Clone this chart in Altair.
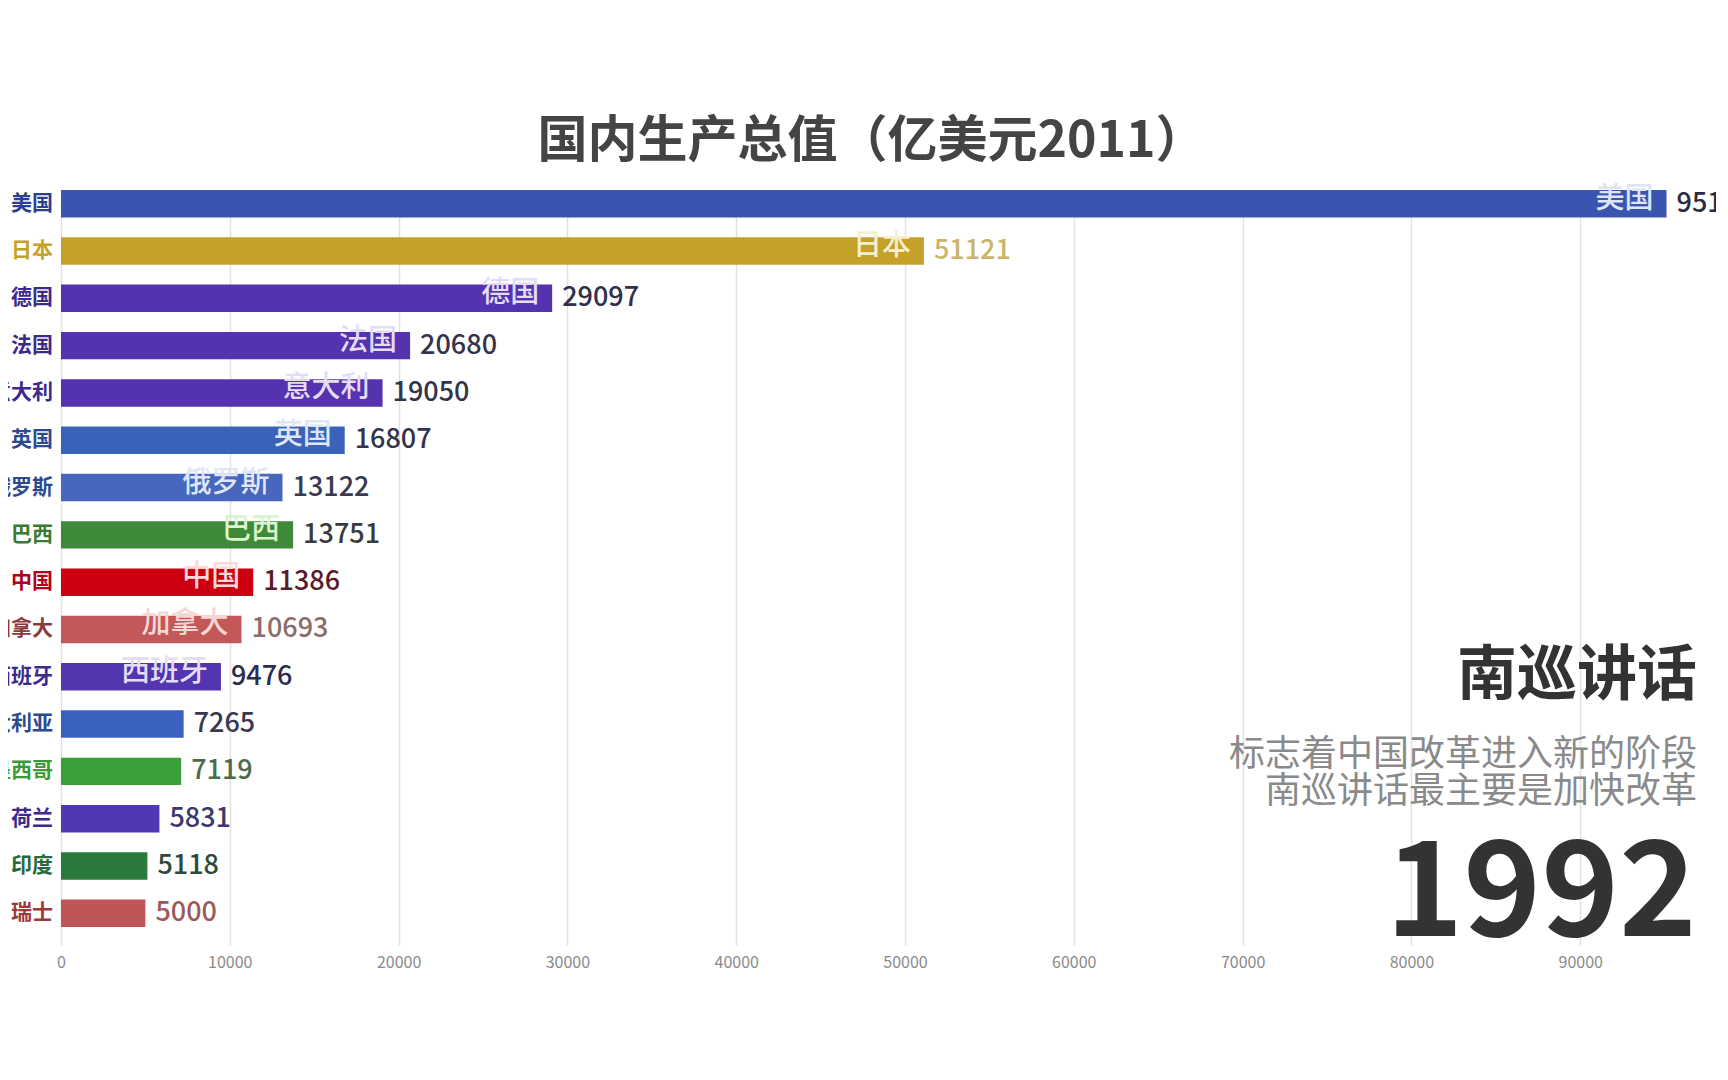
import altair as alt
import pandas as pd

countries = ["美国", "日本", "德国", "法国", "意大利", "英国", "俄罗斯", "巴西",
             "中国", "加拿大", "西班牙", "澳大利亚", "墨西哥", "荷兰", "印度", "瑞士"]
values = [95113, 51121, 29097, 20680, 19050, 16807, 13122, 13751,
          11386, 10693, 9476, 7265, 7119, 5831, 5118, 5000]
x_ticks = [0, 10000, 20000, 30000, 40000, 50000, 60000, 70000, 80000, 90000]
inner_names = ["美国", "日本", "德国", "法国", "意大利", "英国", "俄罗斯", "巴西",
               "中国", "加拿大", "西班牙"]

title_text = "国内生产总值（亿美元2011）"
event_title = ["南巡讲话"]
event_line1 = ["标志着中国改革进入新的阶段"]
event_line2 = ["南巡讲话最主要是加快改革"]
year_text = ["1992"]

# ---- palettes ----
bar_colors = ["#3a55b0", "#c4a22a", "#5533b0", "#5533b0", "#5533b0", "#3a62b8", "#4766bd", "#3f8a38",
              "#cc0010", "#c25858", "#5236b0", "#3a60c0", "#3aa03a", "#5038b5", "#2a7a3c", "#c05555"]
name_colors = ["#2c3e90", "#c4a22a", "#3c2a8c", "#3c2a8c", "#3c2a8c", "#2c4a90", "#2c4a90", "#3a7a30",
               "#b0001a", "#8c3a3a", "#3c2a8c", "#2c4a90", "#3a9a3a", "#3c2a8c", "#2a6a3a", "#9a3a3a"]
value_colors = ["#2a2a40", "#c9b46a", "#30304a", "#33334a", "#33334a", "#33334a", "#3a3a50", "#3a3a3a",
                "#5a1a2a", "#8c6b6b", "#2c2c4e", "#383850", "#4d6a4d", "#3a3a6a", "#2c4a3a", "#9a5a5a"]
inner_colors = ["#dfe4f7", "#f6efcf", "#e4dcf5", "#e4dcf5", "#e4dcf5", "#dfe6f7", "#dfe6f7", "#dcf3cf",
                "#fbd9dc", "#f3d6d6", "#e4dcf5"]

FONT = "Noto Sans CJK SC"
W, H = 1655, 755

df = pd.DataFrame({"country": countries, "value": values})

x_scale = alt.Scale(domain=[0, 98045], nice=False, zero=True)
y_enc = alt.Y("country:N", sort=countries,
              scale=alt.Scale(paddingInner=0.42, paddingOuter=0.19, align=0),
              axis=None)

bars = alt.Chart(df).mark_bar().encode(
    x=alt.X("value:Q", scale=x_scale,
            axis=alt.Axis(values=x_ticks, format="d", title=None, domain=False, ticks=False,
                          grid=True, gridColor="#e2e2e2", gridWidth=1.5,
                          labelColor="#8a8a8a", labelFontSize=16, labelPadding=9,
                          labelFont=FONT, labelFlush=False)),
    y=y_enc,
    color=alt.Color("country:N", scale=alt.Scale(domain=countries, range=bar_colors), legend=None),
)

inner = alt.Chart(df).transform_filter(
    alt.FieldOneOfPredicate(field="country", oneOf=inner_names)
).mark_text(align="right", baseline="middle", dx=-13, dy=-5, font=FONT, fontSize=29,
            fontWeight=500).encode(
    x=alt.X("value:Q", scale=x_scale),
    y=y_enc,
    text="country:N",
    color=alt.Color("country:N", scale=alt.Scale(domain=inner_names, range=inner_colors), legend=None),
)

vals = alt.Chart(df).mark_text(align="left", baseline="middle", dx=10, font=FONT, fontSize=27,
                               fontWeight=500, clip=True).encode(
    x=alt.X("value:Q", scale=x_scale),
    y=y_enc,
    text=alt.Text("value:Q", format="d"),
    color=alt.Color("country:N", scale=alt.Scale(domain=countries, range=value_colors), legend=None),
)

names = alt.Chart(df).mark_text(align="right", baseline="middle", dx=-8, font=FONT, fontSize=21,
                                fontWeight="bold").encode(
    x=alt.value(0),
    y=y_enc,
    text="country:N",
    color=alt.Color("country:N", scale=alt.Scale(domain=countries, range=name_colors), legend=None),
)

ev_title = alt.Chart(pd.DataFrame({"t": event_title})).mark_text(
    align="right", baseline="middle", font=FONT, fontSize=60, fontWeight="bold", color="#333333"
).encode(x=alt.value(1636), y=alt.value(487), text="t:N")

ev_l1 = alt.Chart(pd.DataFrame({"t": event_line1})).mark_text(
    align="right", baseline="middle", font=FONT, fontSize=36, color="#8a8a8a"
).encode(x=alt.value(1636), y=alt.value(565), text="t:N")

ev_l2 = alt.Chart(pd.DataFrame({"t": event_line2})).mark_text(
    align="right", baseline="middle", font=FONT, fontSize=36, color="#8a8a8a"
).encode(x=alt.value(1636), y=alt.value(602), text="t:N")

year = alt.Chart(pd.DataFrame({"t": year_text})).mark_text(
    align="right", baseline="middle", font=FONT, fontSize=132, fontWeight="bold", color="#333333"
).encode(x=alt.value(1636), y=alt.value(706), text="t:N")

chart = alt.layer(bars, inner, vals, names, ev_title, ev_l1, ev_l2, year).resolve_scale(
    color="independent"
).properties(
    width=W,
    height=H,
    padding={"left": 53, "top": 182, "right": 0, "bottom": 70},
    autosize=alt.AutoSizeParams(type="none"),
    background="white",
    title=alt.Title(text=title_text, font=FONT, fontSize=50, fontWeight="bold", color="#444444",
                    anchor="middle", dx=-17, offset=18),
).configure_view(stroke=None)

chart.save("out.html", embed_options={"renderer": "svg", "actions": False})
